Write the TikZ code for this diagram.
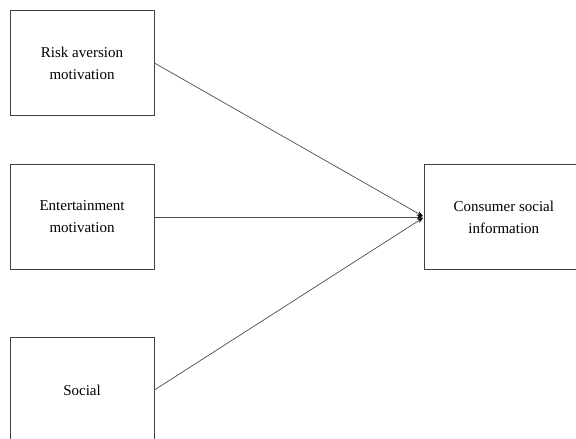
\documentclass[tikz,border=0pt]{standalone}
\usepackage{fontspec}
\setmainfont{Liberation Serif}
\usepackage{tikz}
\usetikzlibrary{positioning}
\usetikzlibrary{arrows.meta}

\begin{document}
\begin{tikzpicture}[x=1pt, y=-1pt,
factornode/.style={rectangle, draw=black!75, line width=0.8pt, minimum width=144pt, minimum height=105pt, align=center, font=\fontsize{15}{22}\selectfont},
linkline/.style={draw=black!70, line width=0.7pt, -{Stealth[length=6pt, width=4.5pt, black]}, shorten >=1.5pt},
]
\useasboundingbox (0,0) rectangle (576,439);

% Motivation nodes
\node[factornode]       (riskaversion)      at (82,63)      {Risk aversion\\motivation};
\node[factornode]       (entertainment)     at (82,217)     {Entertainment\\motivation};
\node[factornode]       (social)            at (82,390)     {Social};

% Outcome node
\node[factornode, minimum width=158pt] (consumerinfo) [right=270pt of entertainment] {Consumer social\\information};

\draw[linkline] (riskaversion.east) -- (consumerinfo.west);
\draw[linkline] (entertainment.east) -- (consumerinfo.west);
\draw[linkline] (social.east) -- (consumerinfo.west);
\end{tikzpicture}
\end{document}
